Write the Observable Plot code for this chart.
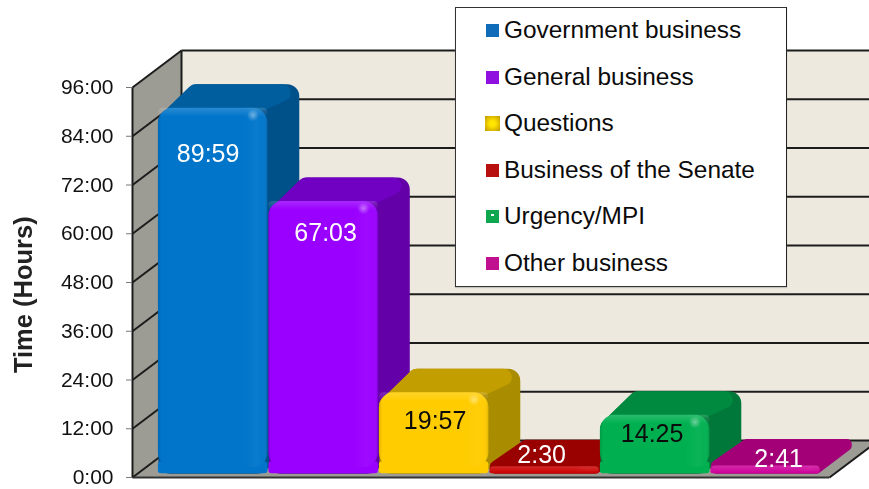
<!DOCTYPE html>
<html><head><meta charset="utf-8">
<script src="https://cdn.jsdelivr.net/npm/d3@7"></script>
<script src="https://cdn.jsdelivr.net/npm/@observablehq/plot@0.6"></script>
<style>
html,body{margin:0;padding:0;background:#fff;overflow:hidden}
#wrap{position:relative;width:869px;height:489px;font-family:"Liberation Sans",Arial,sans-serif}
#wrap svg{position:absolute;left:0;top:0;background:#fff;filter:blur(.4px)}
#legend{position:absolute;left:455px;top:7px;width:330px;height:278px;background:#fff;border:1px solid #333;border-right-color:#222;box-shadow:0 1px 1px #8886}
.row{position:absolute;left:30px;height:28px;line-height:28px;font-size:24.4px;color:#0b0b0b;white-space:nowrap;padding-left:18px}
.sw{position:absolute;left:0;top:8px;width:13px;height:13px}
.sw.gold{left:-1px;top:7px;width:15px;height:15px;background:radial-gradient(circle,#ffe600 25%,#c9a000 90%)!important}
.sw.spot::after{content:"";position:absolute;left:5px;top:4px;width:3px;height:2px;background:#fff}
</style></head><body><div id="wrap"></div>
<script>
const categories = ["Government business","General business","Questions","Business of the Senate","Urgency/MPI","Other business"];
const durations = ["89:59","67:03","19:57","2:30","14:25","2:41"];
const yTicks = [0,12,24,36,48,60,72,84,96];

const frontColors = ["#0075ca","#9a00ff","#ffcc00","#cc0000","#00b050","#cc0099"];
const topColors   = ["#005e9e","#7000c2","#c29e00","#990000","#008a40","#a30078"];
const sideColors  = ["#00508a","#6400a8","#a98c00","#8a0000","#00783a","#8c0069"];
const swatchColors= ["#0f6cb8","#9010e0","#e2b800","#b80f0f","#0fa650","#c0108f"];
const inkColors   = ["#fff","#fff","#0b0b0b","#fff","#0b0b0b","#fff"];
const labelNudge  = [[-5,46],[2,32],[1,28],[-3,-9],[-3,19],[13,-4]];

const hours = durations.map(s => { const [h,m] = s.split(":").map(Number); return h + m/60; });

// scale geometry (pixels per data unit) and the oblique projection of depth
const PX_U = 110.5, PX_H = 390/96;
const DEPTH_U = 49/PX_U, DEPTH_H = 37/PX_H;
const Z0 = 0.1, Z1 = 0.72;
const AXIS_U = -21/PX_U, END_U = 6 + (829-816)/PX_U;
const X = (u,z) => u + z*DEPTH_U;
const Y = (h,z) => h + z*DEPTH_H;
const pt = (u,h,z,px=0,py=0) => ({x:X(u,z)+px/PX_U, y:Y(h,z)-py/PX_H});

const solid = (pts,color,sw=0) => Plot.line(pts,{x:"x",y:"y",fill:color,stroke:sw?color:"none",strokeWidth:sw,strokeLinejoin:"round",curve:"linear-closed"});

const R = 12;
const barMarks = hours.flatMap((v,i) => {
  const a=i, b=i+1;
  const hpx = v*PX_H, low = hpx < 15;
  const r = low ? 5 : Math.min(R, hpx*0.6);
  const t = r*0.7;
  const sag = low ? 0 : 8;
  const sil = [pt(a,0,Z0,r,-r),pt(a,v,Z0,r,.5*r+sag),pt(a,v,Z1,.34*r+4,r-1),pt(b,v,Z1,-r,r-1),pt(b,0,Z1,-r,-r),pt(b,0,Z0,-r,-r)];
  const top = [pt(a,v,Z0,t,.5*t+sag),pt(a,v,Z1,.34*t+4,t-1),pt(b,v,Z1,-2*t,t-1),pt(b,v,Z0,-.6*t,-.8*t)];
  const lift = low ? 3 : 0;
  const ftop = Y(v,Z0)-lift/PX_H, fbase = Y(0,Z0), fa=X(a,Z0), fb=X(b,Z0)-1/PX_U;
  const frontPx = hpx-lift;
  const bandH = Math.min(frontPx,9)/PX_H;
  const corner = Math.min(15,frontPx*.7);
  const one=[{}];
  return [
    solid(sil,low?topColors[i]:sideColors[i],2*r),
    low?null:solid(top,topColors[i],2*t),
    Plot.rect(one,{x1:()=>fa,x2:()=>fb,y1:()=>fbase,y2:()=>fbase+Math.min(frontPx*.6,12)/PX_H,fill:frontColors[i],rx:3}),
    Plot.rect(one,{x1:()=>fa,x2:()=>fb,y1:()=>fbase+Math.min(frontPx*.3,6)/PX_H,y2:()=>ftop,fill:frontColors[i],rx:corner}),
    Plot.rect(one,{x1:()=>fa,x2:()=>fb,y1:()=>fbase+Math.min(frontPx*.3,6)/PX_H,y2:()=>ftop,fill:"url(#sheen)",rx:corner}),
    Plot.rect(one,{x1:()=>fa,x2:()=>fb,y1:()=>ftop-bandH,y2:()=>ftop,fill:"url(#topband)",rx:Math.min(corner,bandH*PX_H/2)}),
    hpx>30 ? Plot.dot(one,{x:()=>fb-15/PX_U,y:()=>ftop-7/PX_H,r:6,fill:"url(#glow)"}) : null,
    Plot.text(one,{x:()=>(fa+fb)/2,y:()=>Y(v,Z0),text:()=>durations[i],fill:inkColors[i],fontSize:25,dx:labelNudge[i][0],dy:labelNudge[i][1]})
  ];
});

const leftWall = [pt(AXIS_U,0,0),pt(AXIS_U,0,1),pt(AXIS_U,96,1),pt(AXIS_U,96,0)];
const floor = [pt(AXIS_U,0,0),pt(AXIS_U,0,1),pt(END_U,0,1),pt(END_U,0,0)];
const rim = [{x1:X(END_U,0),y1:Y(0,0),x2:X(END_U,1),y2:Y(0,1)}];
const INK = "#1c1c1c";

const chart = Plot.plot({
  width:869,height:489,marginLeft:132,marginRight:0,marginTop:0,marginBottom:0,
  style:{fontFamily:'"Liberation Sans",Arial,sans-serif',background:"#fff"},
  x:{domain:[0,6],range:[153,816],axis:null},
  y:{domain:[0,96],range:[477,87]},
  marks:[
    Plot.rect([{}],{x1:()=>X(AXIS_U,1),x2:()=>X(7,1),y1:()=>Y(0,1),y2:()=>Y(96,1),fill:"#ede9df"}),
    solid(leftWall,"#9c9c94"),
    solid(floor,"#9c9c94"),
    Plot.link(yTicks,{x1:()=>X(AXIS_U,1),x2:()=>X(7,1),y1:h=>Y(h,1),y2:h=>Y(h,1),stroke:INK,strokeWidth:2}),
    Plot.link(yTicks,{x1:()=>X(AXIS_U,0),x2:()=>X(AXIS_U,1),y1:h=>Y(h,0),y2:h=>Y(h,1),stroke:INK,strokeWidth:2}),
    Plot.link([{}],{x1:()=>X(AXIS_U,1),x2:()=>X(AXIS_U,1),y1:()=>Y(0,1),y2:()=>Y(96,1),stroke:INK,strokeWidth:2}),
    Plot.link(rim,{x1:"x1",y1:"y1",x2:"x2",y2:"y2",stroke:INK,strokeWidth:2}),
    Plot.link([{}],{x1:()=>X(AXIS_U,0),x2:()=>X(END_U,0),y1:()=>0,y2:()=>0,stroke:"#333",strokeWidth:2}),
    Plot.link([{}],{x1:()=>X(AXIS_U,0),x2:()=>X(AXIS_U,0),y1:()=>0,y2:()=>96,stroke:INK,strokeWidth:2}),
    Plot.axisY(yTicks,{anchor:"left",ticks:yTicks,tickFormat:h=>h+":00",tickSize:6,tickPadding:13,stroke:"#777",fontSize:21,color:"#111",fill:"#111",label:null}),
    Plot.text([{}],{y:()=>45,frameAnchor:"left",dx:-109,text:()=>"Time (Hours)",rotate:-90,fontSize:25.5,fontWeight:"bold",fill:"#222",textAnchor:"middle"}),
    ...barMarks.filter(Boolean)
  ]
});
chart.insertAdjacentHTML("afterbegin",`<defs>
<linearGradient id="sheen" x1="0" x2="1" y1="0" y2="0">
<stop offset="0" stop-color="#000" stop-opacity=".12"/><stop offset=".03" stop-color="#000" stop-opacity="0"/>
<stop offset=".78" stop-color="#fff" stop-opacity="0"/><stop offset=".9" stop-color="#fff" stop-opacity=".04"/>
<stop offset=".96" stop-color="#fff" stop-opacity=".02"/><stop offset="1" stop-color="#000" stop-opacity=".12"/></linearGradient>
<linearGradient id="topband" x1="0" x2="0" y1="0" y2="1">
<stop offset="0" stop-color="#fff" stop-opacity=".16"/><stop offset="1" stop-color="#fff" stop-opacity="0"/></linearGradient>
<radialGradient id="glow"><stop offset="0" stop-color="#fff" stop-opacity=".4"/><stop offset="1" stop-color="#fff" stop-opacity="0"/></radialGradient>
</defs>`);
const wrap = document.getElementById("wrap");
wrap.append(chart);

const legend = document.createElement("div");
legend.id="legend";
categories.forEach((c,i)=>{
  const row=document.createElement("div");
  row.className="row";
  row.style.top=(8+i*46.6)+"px";
  const sw=document.createElement("span");
  sw.className="sw"+(c==="Questions"?" gold":"")+(c==="Urgency/MPI"?" spot":"");
  sw.style.background=swatchColors[i];
  row.append(sw,document.createTextNode(c));
  legend.append(row);
});
wrap.append(legend);
</script></body></html>
